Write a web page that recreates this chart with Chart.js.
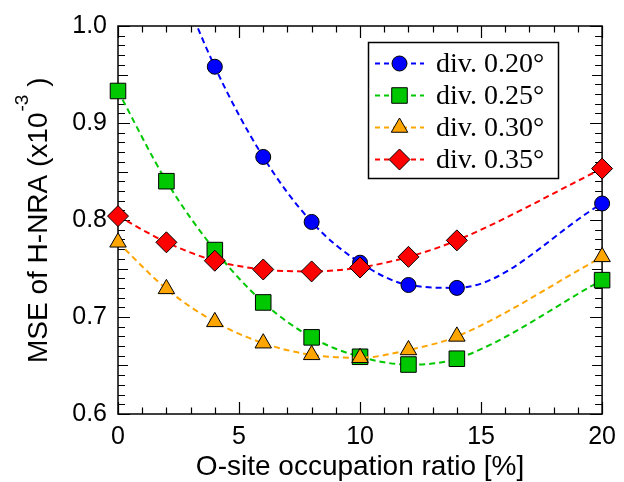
<!DOCTYPE html>
<html><head><meta charset="utf-8">
<style>html,body{margin:0;padding:0;background:#fff;}#wrap{width:624px;height:482px;}</style>
<script src="https://cdn.jsdelivr.net/npm/chart.js@4.4.1/dist/chart.umd.min.js"></script>
</head><body><div id="wrap"><canvas id="c" width="624" height="482"></canvas></div>
<script>
// ---- data ----
const occupation = [0, 2, 4, 6, 8, 10, 12, 14, 20];
const div020 = [1.22, 1.08, 0.958, 0.865, 0.798, 0.756, 0.733, 0.730, 0.817];
const div025 = [0.933, 0.840, 0.769, 0.715, 0.679, 0.659, 0.651, 0.657, 0.738];
const div030 = [0.777, 0.729, 0.695, 0.673, 0.661, 0.658, 0.666, 0.680, 0.762];
const div035 = [0.804, 0.777, 0.758, 0.749, 0.747, 0.751, 0.762, 0.779, 0.853];
const seriesLabels = ['div. 0.20°', 'div. 0.25°', 'div. 0.30°', 'div. 0.35°'];
const xTickLabels = ['0', '5', '10', '15', '20'];
const yTickLabels = ['0.6', '0.7', '0.8', '0.9', '1.0'];
const xTitle = 'O-site occupation ratio [%]';
const yTitleMain = 'MSE of H-NRA (x10';
const yTitleSup = '-3';
const yTitleEnd = ' )';

// ---- styles ----
const SANS = '"Liberation Sans", Arial, sans-serif';
const SERIF = '"Liberation Serif", "Times New Roman", serif';
const seriesStyles = [
  { color: '#0000ff', fill: '#0000ff', pointStyle: 'circle', radius: 7.5 },
  { color: '#00c800', fill: '#00c800', pointStyle: 'rect', radius: 11 },
  { color: '#ffa500', fill: '#ffa500', pointStyle: 'triangle', radius: 9.5 },
  { color: '#ff0000', fill: '#ff0000', pointStyle: 'rectRot', radius: 10.5 }
];
const allSeries = [div020, div025, div030, div035];

const datasets = allSeries.map((vals, i) => ({
  label: seriesLabels[i],
  data: occupation.map((x, j) => ({ x: x, y: vals[j] })),
  borderColor: seriesStyles[i].color,
  borderWidth: 2,
  borderDash: [6, 4],
  cubicInterpolationMode: 'monotone',
  fill: false,
  pointStyle: seriesStyles[i].pointStyle,
  pointRadius: seriesStyles[i].radius,
  pointHoverRadius: seriesStyles[i].radius,
  pointBackgroundColor: seriesStyles[i].fill,
  pointBorderColor: '#000',
  pointBorderWidth: 1,
  order: 4 - i,
  clip: { left: 16, right: 16, top: 0, bottom: 16 }
}));

const framePlugin = {
  id: 'frame',
  beforeDatasetsDraw(chart) {
    const { ctx, chartArea: a, scales: { x, y } } = chart;
    ctx.save();
    ctx.strokeStyle = '#000';
    ctx.lineWidth = 1.5;
    ctx.setLineDash([]);
    ctx.strokeRect(a.left, a.top, a.right - a.left, a.bottom - a.top);
    ctx.lineWidth = 1.2;
    ctx.beginPath();
    for (let v = 0; v <= 20; v++) {
      const px = Math.round(x.getPixelForValue(v)) + 0.5;
      const len = v % 5 === 0 ? 12 : 6.5;
      ctx.moveTo(px, a.bottom); ctx.lineTo(px, a.bottom - len);
      ctx.moveTo(px, a.top); ctx.lineTo(px, a.top + len);
    }
    for (let k = 60; k <= 100; k++) {
      const py = Math.round(y.getPixelForValue(k / 100)) + 0.5;
      const len = k % 10 === 0 ? 12 : (k % 5 === 0 ? 10 : 7);
      ctx.moveTo(a.left, py); ctx.lineTo(a.left + len, py);
      ctx.moveTo(a.right, py); ctx.lineTo(a.right - len, py);
    }
    ctx.stroke();
    ctx.restore();
  }
};

const yTitlePlugin = {
  id: 'ytitle',
  afterDraw(chart) {
    const ctx = chart.ctx;
    ctx.save();
    ctx.translate(47, 363);
    ctx.rotate(-Math.PI / 2);
    ctx.fillStyle = '#000';
    ctx.textAlign = 'left';
    ctx.textBaseline = 'alphabetic';
    ctx.font = '28px ' + SANS;
    ctx.fillText(yTitleMain, 0, 0);
    let w = ctx.measureText(yTitleMain).width + 1;
    ctx.font = '19px ' + SANS;
    ctx.fillText(yTitleSup, w, -19);
    w += ctx.measureText(yTitleSup).width;
    ctx.font = '28px ' + SANS;
    ctx.fillText(yTitleEnd, w, 0);
    ctx.restore();
  }
};

const legendPlugin = {
  id: 'boxlegend',
  afterDatasetsDraw(chart) {
    const ctx = chart.ctx;
    const bx = 368.5, by = 42.5, bw = 190, bh = 136;
    ctx.save();
    ctx.fillStyle = '#fff';
    ctx.fillRect(bx, by, bw, bh);
    ctx.strokeStyle = '#000';
    ctx.lineWidth = 1.5;
    ctx.setLineDash([]);
    ctx.strokeRect(bx, by, bw, bh);
    chart.data.datasets.forEach((ds, i) => {
      const st = seriesStyles[i];
      const ry = 63.5 + i * 32;
      ctx.setLineDash([5, 4]);
      ctx.lineWidth = 2;
      ctx.strokeStyle = st.color;
      ctx.beginPath();
      ctx.moveTo(375, ry); ctx.lineTo(424, ry);
      ctx.stroke();
      ctx.setLineDash([]);
      ctx.fillStyle = st.fill;
      ctx.strokeStyle = '#000';
      ctx.lineWidth = 1;
      Chart.helpers.drawPoint(ctx, { pointStyle: st.pointStyle, radius: st.radius, borderWidth: 1, rotation: 0 }, 399.5, ry);
      ctx.fillStyle = '#000';
      ctx.font = '28px ' + SERIF;
      ctx.textAlign = 'left';
      ctx.textBaseline = 'middle';
      ctx.fillText(ds.label, 436, ry + 1);
    });
    ctx.restore();
  }
};

new Chart(document.getElementById('c'), {
  type: 'line',
  data: { datasets: datasets },
  options: {
    responsive: false,
    animation: false,
    devicePixelRatio: 1,
    layout: { padding: { top: 24, right: 17, left: 0, bottom: 0 } },
    plugins: { legend: { display: false }, tooltip: { enabled: false } },
    events: [],
    scales: {
      x: {
        type: 'linear', min: 0, max: 20,
        afterBuildTicks: s => { s.ticks = xTickLabels.map(t => ({ value: parseFloat(t) })); },
        afterFit: s => { s.height = 68; },
        grid: { display: false, drawTicks: false },
        border: { display: false },
        ticks: { padding: 8, color: '#000', autoSkip: false, maxRotation: 0,
          font: { family: SANS, size: 25 },
          callback: (v, i) => xTickLabels[i] },
        title: { display: true, text: xTitle, color: '#000',
          font: { family: SANS, size: 28, lineHeight: 1 }, padding: { top: 0, bottom: 1 } }
      },
      y: {
        type: 'linear', min: 0.6, max: 1.0,
        afterBuildTicks: s => { s.ticks = yTickLabels.map(t => ({ value: parseFloat(t) })); },
        afterFit: s => { s.width = 118; },
        grid: { display: false, drawTicks: false },
        border: { display: false },
        ticks: { padding: 11, color: '#000', autoSkip: false,
          font: { family: SANS, size: 25 },
          callback: (v, i) => yTickLabels[i] },
        title: { display: false }
      }
    }
  },
  plugins: [framePlugin, legendPlugin, yTitlePlugin]
});
</script>
</body></html>
